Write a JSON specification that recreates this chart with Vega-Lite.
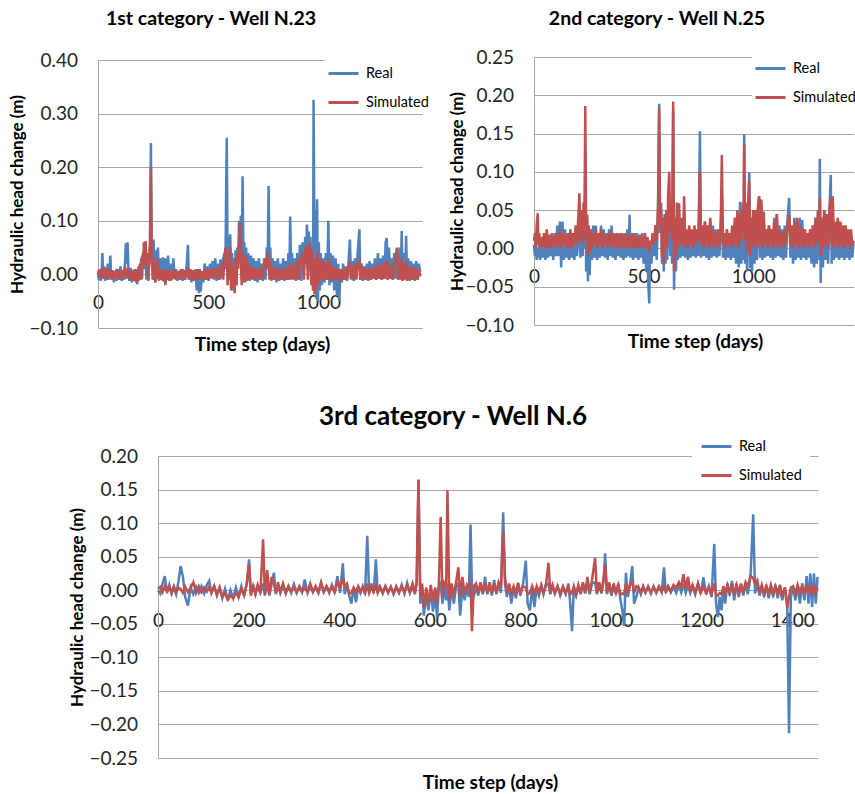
{
"$schema": "https://vega.github.io/schema/vega-lite/v6.json",
"padding": {"left": 0, "top": 8, "right": 0, "bottom": 0},
"background": "white",
"config": {
 "view": {"stroke": null},
 "font": "Lato",
 "axis": {"labelFont": "Lato", "labelFontSize": 19, "labelColor": "#262626", "titleFont": "Lato", "titleFontWeight": "bold", "titleColor": "#000000", "ticks": false, "labelFlush": false, "labelOverlap": false, "gridColor": "#a6a6a6", "gridWidth": 1, "domainColor": "#a6a6a6", "domainWidth": 1},
 "axisX": {"grid": false, "domain": false, "labelPadding": 19, "format": "d", "titleFontSize": 19},
 "axisY": {"grid": true, "domain": true, "labelPadding": 20.5, "format": ".2f", "titleFontSize": 17, "tickCount": 20},
 "legend": {"orient": "none", "direction": "vertical", "fillColor": "white", "padding": 2, "symbolType": "stroke", "symbolSize": 900, "symbolStrokeWidth": 3, "labelFont": "Lato", "labelFontSize": 14.5, "labelColor": "#000000", "labelOffset": 6, "rowPadding": 6},
 "title": {"font": "Lato", "fontWeight": "bold", "color": "#000000", "anchor": "middle", "frame": "group", "baseline": "alphabetic"}
},
"datasets": {
"w23": [
{"t":0,"r":0.000,"s":0.000},{"t":4,"r":-0.010,"s":0.008},{"t":8,"r":0.010,"s":-0.005},{"t":12,"r":-0.012,"s":0.010},{"t":16,"r":0.000,"s":-0.008},{"t":20,"r":0.040,"s":0.012},{"t":24,"r":-0.008,"s":-0.006},{"t":28,"r":0.015,"s":0.010},{"t":32,"r":-0.012,"s":-0.004},{"t":36,"r":0.005,"s":0.012},{"t":40,"r":-0.010,"s":-0.008},{"t":44,"r":0.020,"s":0.006},{"t":48,"r":-0.006,"s":-0.010},{"t":52,"r":0.010,"s":0.010},{"t":56,"r":0.035,"s":-0.004},{"t":60,"r":-0.010,"s":0.008},{"t":66,"r":0.008,"s":-0.010},{"t":72,"r":-0.015,"s":0.006},{"t":78,"r":0.005,"s":-0.006},{"t":84,"r":-0.012,"s":0.010},{"t":90,"r":0.010,"s":-0.008},{"t":96,"r":-0.010,"s":0.005},{"t":102,"r":0.015,"s":-0.010},{"t":108,"r":-0.012,"s":0.008},{"t":114,"r":0.005,"s":-0.005},{"t":120,"r":-0.010,"s":0.010},{"t":126,"r":0.058,"s":0.004},{"t":130,"r":0.020,"s":-0.008},{"t":134,"r":0.060,"s":0.012},{"t":138,"r":0.010,"s":-0.006},{"t":142,"r":-0.012,"s":0.008},{"t":148,"r":0.012,"s":-0.010},{"t":154,"r":-0.015,"s":0.006},{"t":160,"r":0.008,"s":-0.012},{"t":166,"r":-0.012,"s":0.010},{"t":172,"r":0.010,"s":-0.015},{"t":178,"r":-0.018,"s":0.008},{"t":184,"r":0.015,"s":-0.012},{"t":190,"r":-0.010,"s":0.020},{"t":196,"r":0.030,"s":-0.010},{"t":200,"r":-0.008,"s":0.035},{"t":204,"r":0.040,"s":0.010},{"t":208,"r":0.010,"s":0.060},{"t":212,"r":0.055,"s":0.020},{"t":216,"r":0.020,"s":0.062},{"t":220,"r":-0.010,"s":0.015},{"t":224,"r":0.030,"s":0.040},{"t":228,"r":-0.012,"s":-0.010},{"t":232,"r":0.020,"s":0.030},{"t":236,"r":0.050,"s":0.060},{"t":240,"r":0.245,"s":0.200},{"t":244,"r":0.030,"s":0.020},{"t":248,"r":-0.010,"s":0.030},{"t":252,"r":0.065,"s":-0.010},{"t":256,"r":0.010,"s":0.020},{"t":260,"r":-0.015,"s":-0.015},{"t":264,"r":0.045,"s":0.010},{"t":268,"r":0.000,"s":0.030},{"t":272,"r":0.050,"s":-0.008},{"t":276,"r":-0.012,"s":0.012},{"t":282,"r":0.030,"s":-0.010},{"t":288,"r":-0.010,"s":0.008},{"t":294,"r":0.032,"s":-0.012},{"t":300,"r":-0.014,"s":0.010},{"t":306,"r":0.030,"s":-0.020},{"t":312,"r":-0.010,"s":0.006},{"t":318,"r":0.035,"s":-0.010},{"t":324,"r":-0.012,"s":0.008},{"t":330,"r":0.020,"s":-0.012},{"t":336,"r":-0.010,"s":0.006},{"t":342,"r":0.030,"s":-0.008},{"t":348,"r":-0.008,"s":0.010},{"t":354,"r":0.010,"s":-0.010},{"t":360,"r":-0.012,"s":0.006},{"t":366,"r":0.005,"s":-0.010},{"t":372,"r":-0.010,"s":0.008},{"t":378,"r":0.010,"s":-0.006},{"t":384,"r":-0.012,"s":0.010},{"t":390,"r":0.008,"s":-0.010},{"t":396,"r":-0.010,"s":0.008},{"t":402,"r":0.015,"s":-0.005},{"t":408,"r":0.055,"s":0.012},{"t":412,"r":-0.010,"s":-0.008},{"t":418,"r":0.010,"s":0.010},{"t":424,"r":-0.015,"s":-0.010},{"t":430,"r":0.008,"s":0.008},{"t":436,"r":-0.012,"s":-0.010},{"t":442,"r":0.010,"s":0.006},{"t":448,"r":-0.030,"s":-0.008},{"t":452,"r":0.005,"s":0.010},{"t":458,"r":-0.035,"s":-0.010},{"t":462,"r":0.010,"s":0.008},{"t":466,"r":-0.032,"s":-0.008},{"t":472,"r":0.005,"s":0.006},{"t":478,"r":-0.015,"s":-0.010},{"t":484,"r":0.020,"s":0.010},{"t":490,"r":-0.010,"s":-0.008},{"t":496,"r":0.015,"s":0.008},{"t":502,"r":-0.012,"s":-0.010},{"t":508,"r":0.020,"s":0.010},{"t":514,"r":-0.008,"s":-0.006},{"t":520,"r":0.025,"s":0.010},{"t":526,"r":-0.010,"s":-0.008},{"t":532,"r":0.030,"s":0.012},{"t":538,"r":-0.012,"s":-0.006},{"t":544,"r":0.020,"s":0.010},{"t":550,"r":-0.010,"s":-0.010},{"t":556,"r":0.028,"s":0.012},{"t":562,"r":-0.008,"s":0.020},{"t":568,"r":0.030,"s":-0.010},{"t":574,"r":0.040,"s":0.030},{"t":578,"r":0.010,"s":0.050},{"t":584,"r":0.255,"s":0.040},{"t":588,"r":0.020,"s":-0.020},{"t":592,"r":0.070,"s":0.030},{"t":596,"r":0.015,"s":-0.010},{"t":600,"r":0.075,"s":0.050},{"t":604,"r":-0.020,"s":-0.030},{"t":608,"r":0.040,"s":0.020},{"t":612,"r":-0.030,"s":-0.025},{"t":616,"r":0.030,"s":0.010},{"t":620,"r":-0.032,"s":-0.035},{"t":624,"r":0.045,"s":0.030},{"t":628,"r":-0.020,"s":-0.020},{"t":632,"r":0.050,"s":0.040},{"t":636,"r":0.020,"s":0.010},{"t":640,"r":0.100,"s":0.060},{"t":644,"r":0.030,"s":0.096},{"t":648,"r":0.110,"s":0.030},{"t":652,"r":-0.010,"s":-0.020},{"t":656,"r":0.183,"s":0.040},{"t":660,"r":0.020,"s":-0.015},{"t":664,"r":0.060,"s":0.030},{"t":668,"r":-0.015,"s":-0.010},{"t":672,"r":0.050,"s":0.035},{"t":676,"r":-0.010,"s":-0.012},{"t":682,"r":0.040,"s":0.020},{"t":688,"r":-0.012,"s":-0.010},{"t":694,"r":0.035,"s":0.015},{"t":700,"r":-0.010,"s":-0.008},{"t":706,"r":0.030,"s":0.012},{"t":712,"r":-0.012,"s":-0.010},{"t":718,"r":0.025,"s":0.010},{"t":724,"r":-0.015,"s":-0.008},{"t":730,"r":0.030,"s":0.012},{"t":736,"r":-0.010,"s":-0.010},{"t":742,"r":0.020,"s":0.010},{"t":748,"r":-0.012,"s":-0.008},{"t":754,"r":0.030,"s":0.020},{"t":760,"r":-0.010,"s":0.030},{"t":766,"r":0.050,"s":0.010},{"t":770,"r":0.020,"s":0.040},{"t":774,"r":0.165,"s":0.030},{"t":778,"r":0.010,"s":-0.010},{"t":782,"r":0.050,"s":0.025},{"t":786,"r":-0.012,"s":-0.008},{"t":792,"r":0.030,"s":0.015},{"t":798,"r":-0.010,"s":-0.010},{"t":804,"r":0.025,"s":0.010},{"t":810,"r":-0.015,"s":-0.008},{"t":816,"r":0.030,"s":0.012},{"t":822,"r":-0.012,"s":-0.010},{"t":828,"r":0.020,"s":0.008},{"t":834,"r":-0.010,"s":-0.010},{"t":840,"r":0.030,"s":0.012},{"t":846,"r":-0.012,"s":-0.008},{"t":852,"r":0.025,"s":0.010},{"t":858,"r":-0.010,"s":-0.010},{"t":864,"r":0.040,"s":0.015},{"t":868,"r":-0.010,"s":-0.010},{"t":872,"r":0.108,"s":0.020},{"t":876,"r":0.010,"s":-0.010},{"t":880,"r":0.040,"s":0.015},{"t":886,"r":-0.010,"s":-0.008},{"t":892,"r":0.030,"s":0.020},{"t":898,"r":-0.012,"s":-0.010},{"t":904,"r":0.040,"s":0.025},{"t":910,"r":-0.010,"s":-0.010},{"t":916,"r":0.055,"s":0.030},{"t":922,"r":-0.012,"s":0.020},{"t":928,"r":0.060,"s":0.040},{"t":934,"r":0.010,"s":-0.010},{"t":940,"r":0.070,"s":0.050},{"t":944,"r":0.020,"s":0.030},{"t":948,"r":0.093,"s":0.052},{"t":952,"r":0.010,"s":-0.010},{"t":956,"r":0.080,"s":0.040},{"t":960,"r":0.020,"s":0.060},{"t":964,"r":0.070,"s":0.020},{"t":968,"r":-0.010,"s":-0.020},{"t":972,"r":0.050,"s":0.045},{"t":976,"r":-0.030,"s":-0.030},{"t":978,"r":0.326,"s":0.030},{"t":982,"r":0.050,"s":-0.037},{"t":986,"r":0.120,"s":0.030},{"t":990,"r":-0.045,"s":-0.030},{"t":994,"r":0.140,"s":0.040},{"t":998,"r":-0.050,"s":-0.020},{"t":1002,"r":0.060,"s":0.030},{"t":1006,"r":-0.030,"s":-0.015},{"t":1010,"r":0.040,"s":0.030},{"t":1016,"r":-0.020,"s":-0.010},{"t":1022,"r":0.030,"s":0.025},{"t":1028,"r":-0.015,"s":-0.010},{"t":1034,"r":0.040,"s":0.020},{"t":1040,"r":-0.010,"s":-0.010},{"t":1045,"r":0.100,"s":0.030},{"t":1050,"r":-0.020,"s":-0.010},{"t":1055,"r":0.040,"s":0.020},{"t":1060,"r":-0.015,"s":-0.012},{"t":1066,"r":0.035,"s":0.015},{"t":1072,"r":-0.030,"s":-0.010},{"t":1078,"r":0.030,"s":0.012},{"t":1084,"r":-0.040,"s":-0.008},{"t":1090,"r":0.020,"s":0.010},{"t":1095,"r":-0.050,"s":-0.015},{"t":1100,"r":0.010,"s":0.008},{"t":1106,"r":-0.015,"s":-0.010},{"t":1112,"r":0.020,"s":0.010},{"t":1118,"r":-0.010,"s":-0.008},{"t":1124,"r":0.015,"s":0.012},{"t":1130,"r":-0.012,"s":-0.010},{"t":1136,"r":0.020,"s":0.015},{"t":1143,"r":0.065,"s":0.020},{"t":1148,"r":-0.010,"s":-0.008},{"t":1154,"r":0.025,"s":0.015},{"t":1160,"r":-0.012,"s":-0.010},{"t":1166,"r":0.030,"s":0.020},{"t":1172,"r":-0.010,"s":-0.008},{"t":1178,"r":0.040,"s":0.020},{"t":1186,"r":0.084,"s":0.025},{"t":1190,"r":-0.010,"s":-0.010},{"t":1196,"r":0.020,"s":0.015},{"t":1202,"r":-0.012,"s":-0.008},{"t":1208,"r":0.015,"s":0.012},{"t":1214,"r":-0.010,"s":-0.010},{"t":1220,"r":0.020,"s":0.010},{"t":1226,"r":-0.012,"s":-0.008},{"t":1232,"r":0.025,"s":0.012},{"t":1238,"r":-0.010,"s":-0.010},{"t":1244,"r":0.020,"s":0.010},{"t":1250,"r":-0.008,"s":-0.008},{"t":1256,"r":0.030,"s":0.015},{"t":1262,"r":-0.010,"s":-0.010},{"t":1270,"r":0.040,"s":0.020},{"t":1276,"r":-0.008,"s":-0.008},{"t":1282,"r":0.030,"s":0.015},{"t":1288,"r":-0.010,"s":-0.010},{"t":1294,"r":0.035,"s":0.020},{"t":1300,"r":-0.008,"s":-0.008},{"t":1305,"r":0.060,"s":0.020},{"t":1310,"r":0.068,"s":0.025},{"t":1314,"r":-0.010,"s":-0.010},{"t":1320,"r":0.050,"s":0.020},{"t":1326,"r":-0.008,"s":-0.008},{"t":1332,"r":0.030,"s":0.015},{"t":1338,"r":-0.010,"s":-0.010},{"t":1344,"r":0.040,"s":0.020},{"t":1350,"r":-0.008,"s":0.030},{"t":1356,"r":0.030,"s":0.050},{"t":1362,"r":-0.010,"s":-0.010},{"t":1368,"r":0.050,"s":0.020},{"t":1374,"r":0.010,"s":-0.010},{"t":1378,"r":0.081,"s":0.030},{"t":1382,"r":-0.010,"s":-0.012},{"t":1388,"r":0.040,"s":0.020},{"t":1394,"r":-0.008,"s":-0.010},{"t":1398,"r":0.072,"s":0.025},{"t":1402,"r":-0.010,"s":-0.012},{"t":1408,"r":0.030,"s":0.015},{"t":1414,"r":-0.012,"s":-0.010},{"t":1420,"r":0.025,"s":0.012},{"t":1426,"r":-0.010,"s":-0.010},{"t":1432,"r":0.020,"s":0.015},{"t":1438,"r":-0.012,"s":-0.008},{"t":1444,"r":0.025,"s":0.012},{"t":1450,"r":-0.010,"s":-0.010},{"t":1456,"r":0.020,"s":0.008},{"t":1462,"r":0.005,"s":-0.004}
],
"w25": [
{"t":0,"r":0.005,"s":0.010},{"t":4,"r":-0.010,"s":0.020},{"t":8,"r":0.010,"s":0.000},{"t":12,"r":-0.015,"s":0.030},{"t":17,"r":0.000,"s":0.046},{"t":20,"r":-0.012,"s":0.005},{"t":24,"r":0.010,"s":0.020},{"t":28,"r":-0.015,"s":0.000},{"t":34,"r":0.005,"s":0.015},{"t":40,"r":-0.012,"s":0.002},{"t":46,"r":0.010,"s":0.020},{"t":52,"r":-0.015,"s":0.000},{"t":58,"r":0.005,"s":0.025},{"t":64,"r":-0.012,"s":0.002},{"t":70,"r":0.010,"s":0.018},{"t":76,"r":-0.010,"s":0.000},{"t":82,"r":0.008,"s":0.020},{"t":88,"r":-0.015,"s":0.002},{"t":94,"r":0.020,"s":0.015},{"t":100,"r":-0.010,"s":0.000},{"t":106,"r":0.030,"s":0.020},{"t":112,"r":-0.010,"s":0.005},{"t":118,"r":0.035,"s":0.025},{"t":124,"r":-0.025,"s":0.000},{"t":130,"r":0.035,"s":0.020},{"t":136,"r":-0.015,"s":0.005},{"t":142,"r":0.025,"s":0.018},{"t":148,"r":-0.012,"s":0.000},{"t":154,"r":0.010,"s":0.020},{"t":160,"r":-0.015,"s":0.002},{"t":166,"r":0.010,"s":0.025},{"t":172,"r":-0.012,"s":0.000},{"t":178,"r":0.008,"s":0.020},{"t":184,"r":-0.015,"s":0.005},{"t":190,"r":0.010,"s":0.030},{"t":196,"r":-0.010,"s":0.005},{"t":202,"r":0.020,"s":0.040},{"t":207,"r":0.030,"s":0.072},{"t":212,"r":-0.012,"s":0.010},{"t":218,"r":0.025,"s":0.050},{"t":222,"r":-0.010,"s":0.005},{"t":226,"r":0.050,"s":0.060},{"t":230,"r":0.000,"s":0.010},{"t":234,"r":0.125,"s":0.186},{"t":238,"r":-0.030,"s":0.020},{"t":242,"r":0.044,"s":0.044},{"t":246,"r":-0.043,"s":-0.010},{"t":250,"r":0.020,"s":0.030},{"t":254,"r":-0.035,"s":-0.005},{"t":258,"r":0.025,"s":0.025},{"t":264,"r":-0.015,"s":0.000},{"t":270,"r":0.030,"s":0.020},{"t":276,"r":-0.012,"s":0.005},{"t":282,"r":0.030,"s":0.025},{"t":288,"r":-0.015,"s":0.000},{"t":294,"r":0.020,"s":0.020},{"t":300,"r":-0.012,"s":0.005},{"t":306,"r":0.030,"s":0.025},{"t":312,"r":-0.010,"s":0.000},{"t":318,"r":0.025,"s":0.020},{"t":324,"r":-0.012,"s":0.005},{"t":330,"r":0.020,"s":0.015},{"t":336,"r":-0.015,"s":0.000},{"t":342,"r":0.025,"s":0.020},{"t":348,"r":-0.010,"s":0.005},{"t":354,"r":0.030,"s":0.022},{"t":360,"r":-0.012,"s":0.000},{"t":366,"r":0.020,"s":0.018},{"t":372,"r":-0.015,"s":0.002},{"t":378,"r":0.015,"s":0.020},{"t":384,"r":-0.010,"s":0.000},{"t":390,"r":0.020,"s":0.018},{"t":396,"r":-0.012,"s":0.002},{"t":402,"r":0.015,"s":0.020},{"t":408,"r":-0.015,"s":0.000},{"t":414,"r":0.020,"s":0.018},{"t":420,"r":-0.012,"s":0.002},{"t":426,"r":0.025,"s":0.020},{"t":432,"r":-0.010,"s":0.000},{"t":436,"r":0.044,"s":0.015},{"t":440,"r":-0.012,"s":0.002},{"t":446,"r":0.020,"s":0.018},{"t":452,"r":-0.015,"s":0.000},{"t":458,"r":0.015,"s":0.020},{"t":464,"r":-0.012,"s":0.002},{"t":470,"r":0.020,"s":0.015},{"t":476,"r":-0.015,"s":0.000},{"t":482,"r":0.015,"s":0.018},{"t":488,"r":-0.012,"s":0.002},{"t":494,"r":0.020,"s":0.015},{"t":500,"r":-0.020,"s":0.000},{"t":506,"r":0.015,"s":0.020},{"t":512,"r":-0.030,"s":0.002},{"t":518,"r":0.010,"s":0.015},{"t":522,"r":-0.050,"s":-0.005},{"t":526,"r":-0.072,"s":0.000},{"t":530,"r":0.010,"s":0.010},{"t":536,"r":-0.020,"s":0.005},{"t":542,"r":0.020,"s":0.020},{"t":548,"r":-0.010,"s":0.005},{"t":554,"r":0.030,"s":0.030},{"t":560,"r":-0.015,"s":0.010},{"t":566,"r":0.060,"s":0.050},{"t":571,"r":0.189,"s":0.183},{"t":575,"r":0.020,"s":0.030},{"t":580,"r":0.060,"s":0.050},{"t":584,"r":-0.020,"s":-0.010},{"t":588,"r":0.040,"s":0.040},{"t":592,"r":-0.030,"s":-0.020},{"t":596,"r":0.045,"s":0.040},{"t":600,"r":-0.020,"s":0.010},{"t":604,"r":0.040,"s":0.050},{"t":608,"r":-0.015,"s":0.000},{"t":612,"r":0.050,"s":0.070},{"t":617,"r":0.060,"s":0.100},{"t":622,"r":-0.010,"s":0.020},{"t":626,"r":0.040,"s":0.050},{"t":630,"r":-0.020,"s":0.010},{"t":635,"r":0.180,"s":0.192},{"t":639,"r":-0.054,"s":-0.030},{"t":643,"r":0.030,"s":0.040},{"t":648,"r":-0.030,"s":-0.010},{"t":652,"r":0.040,"s":0.060},{"t":656,"r":-0.015,"s":0.000},{"t":662,"r":0.040,"s":0.059},{"t":668,"r":-0.012,"s":0.005},{"t":674,"r":0.030,"s":0.040},{"t":680,"r":-0.010,"s":0.005},{"t":685,"r":0.050,"s":0.068},{"t":690,"r":-0.012,"s":0.002},{"t":696,"r":0.020,"s":0.025},{"t":702,"r":-0.015,"s":0.000},{"t":708,"r":0.025,"s":0.030},{"t":714,"r":-0.012,"s":0.005},{"t":720,"r":0.020,"s":0.025},{"t":726,"r":-0.010,"s":0.000},{"t":732,"r":0.025,"s":0.030},{"t":738,"r":-0.012,"s":0.005},{"t":744,"r":0.020,"s":0.025},{"t":750,"r":-0.010,"s":0.010},{"t":757,"r":0.153,"s":0.100},{"t":762,"r":-0.012,"s":0.005},{"t":768,"r":0.030,"s":0.030},{"t":774,"r":-0.010,"s":0.000},{"t":780,"r":0.035,"s":0.035},{"t":786,"r":-0.012,"s":0.005},{"t":792,"r":0.030,"s":0.030},{"t":798,"r":-0.015,"s":0.000},{"t":804,"r":0.035,"s":0.040},{"t":810,"r":-0.012,"s":0.005},{"t":816,"r":0.030,"s":0.025},{"t":822,"r":-0.010,"s":0.000},{"t":828,"r":0.025,"s":0.020},{"t":834,"r":-0.012,"s":0.005},{"t":840,"r":0.020,"s":0.025},{"t":846,"r":-0.010,"s":0.000},{"t":852,"r":0.030,"s":0.030},{"t":857,"r":0.070,"s":0.122},{"t":862,"r":-0.012,"s":0.005},{"t":868,"r":0.020,"s":0.020},{"t":874,"r":-0.015,"s":0.000},{"t":880,"r":0.025,"s":0.025},{"t":886,"r":-0.012,"s":0.005},{"t":892,"r":0.020,"s":0.020},{"t":898,"r":-0.015,"s":0.000},{"t":904,"r":0.025,"s":0.030},{"t":910,"r":-0.012,"s":0.005},{"t":916,"r":0.030,"s":0.040},{"t":922,"r":-0.020,"s":0.005},{"t":928,"r":0.040,"s":0.050},{"t":934,"r":-0.025,"s":0.000},{"t":940,"r":0.061,"s":0.045},{"t":946,"r":-0.020,"s":0.010},{"t":952,"r":0.050,"s":0.060},{"t":956,"r":-0.015,"s":0.020},{"t":959,"r":0.149,"s":0.136},{"t":963,"r":-0.020,"s":0.010},{"t":967,"r":0.050,"s":0.060},{"t":972,"r":-0.030,"s":-0.005},{"t":977,"r":0.050,"s":0.050},{"t":982,"r":0.099,"s":0.088},{"t":986,"r":-0.026,"s":-0.010},{"t":990,"r":0.040,"s":0.040},{"t":995,"r":-0.030,"s":0.000},{"t":1000,"r":0.050,"s":0.050},{"t":1006,"r":-0.020,"s":0.005},{"t":1012,"r":0.040,"s":0.050},{"t":1018,"r":-0.015,"s":0.000},{"t":1022,"r":0.050,"s":0.055},{"t":1027,"r":0.068,"s":0.068},{"t":1032,"r":-0.012,"s":0.005},{"t":1037,"r":0.060,"s":0.064},{"t":1042,"r":-0.015,"s":0.000},{"t":1048,"r":0.040,"s":0.048},{"t":1054,"r":-0.012,"s":0.005},{"t":1060,"r":0.025,"s":0.025},{"t":1066,"r":-0.010,"s":0.000},{"t":1072,"r":0.030,"s":0.030},{"t":1078,"r":-0.012,"s":0.005},{"t":1084,"r":0.025,"s":0.025},{"t":1090,"r":-0.015,"s":0.000},{"t":1096,"r":0.040,"s":0.035},{"t":1102,"r":-0.012,"s":0.005},{"t":1108,"r":0.045,"s":0.045},{"t":1114,"r":-0.010,"s":0.000},{"t":1120,"r":0.030,"s":0.025},{"t":1126,"r":-0.012,"s":0.005},{"t":1132,"r":0.025,"s":0.020},{"t":1138,"r":-0.015,"s":0.000},{"t":1144,"r":0.030,"s":0.025},{"t":1150,"r":-0.012,"s":0.005},{"t":1156,"r":0.035,"s":0.030},{"t":1164,"r":0.066,"s":0.044},{"t":1170,"r":-0.012,"s":0.005},{"t":1176,"r":0.030,"s":0.030},{"t":1182,"r":-0.020,"s":0.000},{"t":1188,"r":0.040,"s":0.035},{"t":1194,"r":-0.015,"s":0.005},{"t":1200,"r":0.035,"s":0.040},{"t":1206,"r":-0.012,"s":0.000},{"t":1212,"r":0.040,"s":0.030},{"t":1218,"r":-0.015,"s":0.005},{"t":1224,"r":0.037,"s":0.025},{"t":1230,"r":-0.012,"s":0.000},{"t":1236,"r":0.025,"s":0.025},{"t":1242,"r":-0.015,"s":0.005},{"t":1248,"r":0.020,"s":0.020},{"t":1254,"r":-0.012,"s":0.000},{"t":1260,"r":0.025,"s":0.025},{"t":1266,"r":-0.020,"s":0.005},{"t":1272,"r":0.030,"s":0.030},{"t":1278,"r":-0.025,"s":0.000},{"t":1284,"r":0.040,"s":0.040},{"t":1290,"r":-0.020,"s":0.005},{"t":1296,"r":0.050,"s":0.050},{"t":1300,"r":-0.015,"s":0.010},{"t":1304,"r":0.117,"s":0.066},{"t":1308,"r":-0.045,"s":-0.010},{"t":1312,"r":0.040,"s":0.040},{"t":1318,"r":-0.025,"s":0.000},{"t":1324,"r":0.050,"s":0.050},{"t":1330,"r":-0.015,"s":0.005},{"t":1336,"r":0.040,"s":0.045},{"t":1342,"r":-0.020,"s":0.000},{"t":1348,"r":0.050,"s":0.050},{"t":1354,"r":0.096,"s":0.066},{"t":1358,"r":-0.020,"s":0.005},{"t":1363,"r":0.060,"s":0.068},{"t":1368,"r":-0.015,"s":0.000},{"t":1374,"r":0.030,"s":0.035},{"t":1380,"r":-0.012,"s":0.005},{"t":1386,"r":0.030,"s":0.040},{"t":1392,"r":-0.015,"s":0.000},{"t":1398,"r":0.025,"s":0.035},{"t":1404,"r":-0.012,"s":0.005},{"t":1410,"r":0.030,"s":0.030},{"t":1416,"r":-0.015,"s":0.000},{"t":1422,"r":0.025,"s":0.030},{"t":1428,"r":-0.012,"s":0.005},{"t":1434,"r":0.020,"s":0.025},{"t":1440,"r":-0.015,"s":0.000},{"t":1446,"r":0.020,"s":0.025},{"t":1452,"r":-0.012,"s":0.005},{"t":1458,"r":0.010,"s":0.010}
],
"w6": [
{"t":0,"r":0.000,"s":0.002},{"t":5,"r":-0.005,"s":0.005},{"t":10,"r":0.010,"s":-0.003},{"t":15,"r":0.021,"s":0.006},{"t":20,"r":-0.004,"s":-0.002},{"t":25,"r":0.008,"s":0.005},{"t":30,"r":-0.005,"s":-0.004},{"t":35,"r":0.004,"s":0.006},{"t":40,"r":-0.006,"s":-0.003},{"t":45,"r":0.012,"s":0.004},{"t":50,"r":0.036,"s":0.002},{"t":55,"r":0.020,"s":-0.004},{"t":60,"r":-0.010,"s":0.005},{"t":66,"r":-0.023,"s":-0.003},{"t":72,"r":0.004,"s":0.004},{"t":78,"r":-0.006,"s":0.012},{"t":84,"r":0.005,"s":-0.004},{"t":90,"r":-0.004,"s":0.006},{"t":96,"r":0.006,"s":-0.003},{"t":102,"r":-0.005,"s":0.004},{"t":108,"r":0.008,"s":-0.002},{"t":113,"r":0.014,"s":0.005},{"t":118,"r":-0.004,"s":-0.004},{"t":124,"r":0.006,"s":0.006},{"t":130,"r":-0.008,"s":-0.006},{"t":136,"r":0.004,"s":0.004},{"t":142,"r":-0.012,"s":-0.010},{"t":148,"r":0.002,"s":-0.004},{"t":154,"r":-0.015,"s":-0.014},{"t":160,"r":0.000,"s":-0.008},{"t":166,"r":-0.012,"s":-0.012},{"t":172,"r":0.004,"s":-0.004},{"t":178,"r":-0.010,"s":-0.010},{"t":184,"r":0.006,"s":0.002},{"t":190,"r":-0.008,"s":-0.008},{"t":196,"r":0.010,"s":0.010},{"t":201,"r":0.046,"s":0.039},{"t":205,"r":-0.006,"s":-0.008},{"t":210,"r":0.008,"s":0.006},{"t":215,"r":-0.005,"s":-0.006},{"t":220,"r":0.006,"s":0.008},{"t":226,"r":-0.004,"s":-0.004},{"t":232,"r":0.010,"s":0.076},{"t":236,"r":-0.006,"s":-0.008},{"t":241,"r":0.008,"s":0.030},{"t":246,"r":-0.008,"s":-0.006},{"t":251,"r":0.010,"s":0.020},{"t":256,"r":0.026,"s":0.010},{"t":260,"r":-0.006,"s":-0.004},{"t":265,"r":0.006,"s":0.012},{"t":270,"r":-0.004,"s":-0.003},{"t":276,"r":0.008,"s":0.010},{"t":282,"r":-0.005,"s":-0.004},{"t":288,"r":0.006,"s":0.006},{"t":294,"r":-0.004,"s":-0.002},{"t":300,"r":0.009,"s":0.004},{"t":306,"r":-0.004,"s":-0.003},{"t":312,"r":0.005,"s":0.006},{"t":318,"r":-0.003,"s":-0.002},{"t":324,"r":0.016,"s":0.004},{"t":330,"r":-0.004,"s":-0.003},{"t":336,"r":0.006,"s":0.010},{"t":342,"r":-0.003,"s":-0.002},{"t":348,"r":0.005,"s":0.006},{"t":354,"r":-0.004,"s":-0.003},{"t":360,"r":0.010,"s":0.012},{"t":366,"r":-0.003,"s":-0.002},{"t":372,"r":0.006,"s":0.006},{"t":378,"r":-0.004,"s":-0.002},{"t":384,"r":0.008,"s":0.006},{"t":390,"r":-0.004,"s":-0.003},{"t":396,"r":0.021,"s":0.012},{"t":402,"r":-0.004,"s":0.004},{"t":408,"r":0.040,"s":0.018},{"t":412,"r":-0.006,"s":0.006},{"t":417,"r":0.008,"s":0.010},{"t":422,"r":-0.008,"s":-0.005},{"t":427,"r":-0.020,"s":-0.004},{"t":432,"r":0.004,"s":0.004},{"t":437,"r":-0.018,"s":-0.003},{"t":442,"r":0.005,"s":0.006},{"t":447,"r":-0.004,"s":-0.002},{"t":452,"r":0.006,"s":0.004},{"t":457,"r":-0.006,"s":-0.004},{"t":462,"r":0.081,"s":0.010},{"t":466,"r":-0.004,"s":-0.004},{"t":471,"r":0.010,"s":0.006},{"t":476,"r":-0.005,"s":-0.002},{"t":481,"r":0.046,"s":0.008},{"t":485,"r":-0.004,"s":-0.004},{"t":490,"r":0.005,"s":0.005},{"t":496,"r":-0.005,"s":-0.003},{"t":502,"r":0.006,"s":0.006},{"t":508,"r":-0.004,"s":-0.003},{"t":514,"r":0.005,"s":0.005},{"t":520,"r":-0.006,"s":-0.004},{"t":526,"r":0.004,"s":0.006},{"t":532,"r":-0.004,"s":-0.003},{"t":538,"r":0.008,"s":0.006},{"t":544,"r":-0.005,"s":-0.003},{"t":550,"r":0.011,"s":0.008},{"t":556,"r":-0.004,"s":-0.003},{"t":562,"r":0.006,"s":0.010},{"t":567,"r":-0.006,"s":-0.004},{"t":571,"r":0.010,"s":0.012},{"t":575,"r":0.165,"s":0.164},{"t":579,"r":-0.020,"s":-0.010},{"t":583,"r":0.004,"s":0.010},{"t":587,"r":-0.038,"s":-0.026},{"t":592,"r":-0.006,"s":0.004},{"t":597,"r":-0.030,"s":-0.020},{"t":602,"r":0.002,"s":0.008},{"t":607,"r":-0.032,"s":-0.015},{"t":612,"r":-0.005,"s":0.004},{"t":616,"r":-0.040,"s":-0.020},{"t":620,"r":0.004,"s":0.010},{"t":624,"r":0.010,"s":0.109},{"t":628,"r":-0.020,"s":-0.010},{"t":632,"r":0.006,"s":0.010},{"t":636,"r":-0.015,"s":0.004},{"t":639,"r":0.010,"s":0.149},{"t":643,"r":-0.030,"s":-0.015},{"t":648,"r":0.004,"s":0.010},{"t":653,"r":-0.020,"s":-0.008},{"t":658,"r":0.006,"s":0.012},{"t":663,"r":0.010,"s":0.034},{"t":667,"r":-0.038,"s":-0.010},{"t":672,"r":0.004,"s":0.020},{"t":677,"r":-0.015,"s":-0.006},{"t":682,"r":0.006,"s":0.008},{"t":686,"r":-0.010,"s":0.004},{"t":690,"r":0.098,"s":0.014},{"t":693,"r":0.004,"s":-0.061},{"t":697,"r":-0.010,"s":0.006},{"t":702,"r":0.006,"s":0.010},{"t":707,"r":-0.008,"s":-0.004},{"t":712,"r":0.010,"s":0.012},{"t":717,"r":-0.006,"s":-0.004},{"t":722,"r":0.020,"s":0.010},{"t":727,"r":-0.006,"s":-0.004},{"t":732,"r":0.008,"s":0.012},{"t":737,"r":-0.008,"s":-0.004},{"t":742,"r":0.015,"s":0.010},{"t":747,"r":-0.006,"s":-0.004},{"t":752,"r":0.010,"s":0.012},{"t":757,"r":-0.004,"s":0.004},{"t":762,"r":0.116,"s":0.088},{"t":766,"r":0.010,"s":0.020},{"t":770,"r":-0.010,"s":-0.004},{"t":775,"r":0.006,"s":0.010},{"t":780,"r":-0.020,"s":-0.006},{"t":785,"r":0.004,"s":0.006},{"t":790,"r":-0.012,"s":-0.004},{"t":795,"r":0.008,"s":0.011},{"t":800,"r":-0.008,"s":-0.004},{"t":806,"r":0.010,"s":0.006},{"t":812,"r":0.044,"s":0.004},{"t":816,"r":-0.020,"s":-0.006},{"t":821,"r":-0.030,"s":-0.004},{"t":826,"r":0.004,"s":0.006},{"t":831,"r":-0.025,"s":-0.005},{"t":836,"r":0.004,"s":0.006},{"t":841,"r":-0.008,"s":-0.004},{"t":846,"r":0.006,"s":0.008},{"t":851,"r":-0.006,"s":-0.004},{"t":856,"r":0.008,"s":0.006},{"t":862,"r":0.010,"s":0.041},{"t":866,"r":-0.006,"s":-0.004},{"t":871,"r":0.006,"s":0.008},{"t":876,"r":-0.005,"s":-0.004},{"t":882,"r":0.006,"s":0.006},{"t":888,"r":-0.008,"s":-0.005},{"t":894,"r":0.004,"s":0.006},{"t":900,"r":-0.006,"s":-0.004},{"t":906,"r":0.010,"s":0.005},{"t":910,"r":-0.020,"s":-0.006},{"t":914,"r":-0.061,"s":-0.004},{"t":918,"r":0.004,"s":0.006},{"t":923,"r":-0.008,"s":-0.006},{"t":928,"r":0.006,"s":0.008},{"t":933,"r":-0.006,"s":-0.004},{"t":938,"r":0.010,"s":0.012},{"t":943,"r":-0.005,"s":-0.004},{"t":948,"r":0.012,"s":0.020},{"t":953,"r":-0.006,"s":-0.004},{"t":958,"r":0.010,"s":0.015},{"t":965,"r":0.012,"s":0.048},{"t":969,"r":-0.006,"s":-0.004},{"t":974,"r":0.010,"s":0.012},{"t":979,"r":-0.005,"s":-0.004},{"t":984,"r":0.015,"s":0.020},{"t":987,"r":0.055,"s":0.039},{"t":991,"r":-0.006,"s":-0.004},{"t":996,"r":0.008,"s":0.012},{"t":1001,"r":-0.008,"s":-0.006},{"t":1006,"r":0.006,"s":0.010},{"t":1011,"r":-0.006,"s":-0.004},{"t":1016,"r":0.010,"s":0.008},{"t":1021,"r":-0.015,"s":-0.006},{"t":1025,"r":-0.030,"s":-0.005},{"t":1029,"r":-0.053,"s":-0.006},{"t":1033,"r":0.026,"s":0.010},{"t":1037,"r":-0.010,"s":-0.004},{"t":1042,"r":0.008,"s":0.008},{"t":1047,"r":0.036,"s":0.012},{"t":1051,"r":-0.020,"s":-0.004},{"t":1056,"r":-0.010,"s":0.006},{"t":1061,"r":0.004,"s":0.004},{"t":1066,"r":-0.006,"s":-0.003},{"t":1071,"r":0.005,"s":0.006},{"t":1076,"r":-0.004,"s":-0.003},{"t":1082,"r":0.004,"s":0.006},{"t":1088,"r":-0.005,"s":-0.003},{"t":1094,"r":0.006,"s":0.004},{"t":1100,"r":-0.004,"s":-0.003},{"t":1106,"r":0.005,"s":0.006},{"t":1112,"r":-0.003,"s":-0.002},{"t":1117,"r":0.034,"s":0.006},{"t":1121,"r":-0.004,"s":-0.002},{"t":1126,"r":0.005,"s":0.006},{"t":1132,"r":-0.003,"s":-0.002},{"t":1138,"r":0.006,"s":0.008},{"t":1144,"r":-0.004,"s":0.004},{"t":1150,"r":0.008,"s":0.012},{"t":1155,"r":-0.003,"s":0.004},{"t":1160,"r":0.010,"s":0.024},{"t":1165,"r":-0.004,"s":0.002},{"t":1170,"r":0.008,"s":0.020},{"t":1175,"r":-0.004,"s":-0.002},{"t":1180,"r":0.006,"s":0.008},{"t":1186,"r":-0.006,"s":-0.004},{"t":1192,"r":0.010,"s":0.010},{"t":1198,"r":-0.005,"s":-0.004},{"t":1204,"r":0.019,"s":0.006},{"t":1210,"r":-0.006,"s":-0.004},{"t":1216,"r":0.006,"s":0.004},{"t":1222,"r":-0.010,"s":-0.006},{"t":1228,"r":0.069,"s":0.010},{"t":1232,"r":-0.020,"s":-0.006},{"t":1236,"r":-0.040,"s":-0.008},{"t":1240,"r":-0.010,"s":-0.004},{"t":1244,"r":-0.030,"s":-0.006},{"t":1248,"r":0.004,"s":0.006},{"t":1252,"r":-0.020,"s":-0.004},{"t":1257,"r":0.010,"s":0.008},{"t":1262,"r":-0.008,"s":-0.004},{"t":1267,"r":0.014,"s":0.010},{"t":1272,"r":-0.015,"s":-0.006},{"t":1277,"r":0.010,"s":0.008},{"t":1282,"r":-0.010,"s":-0.004},{"t":1287,"r":0.008,"s":0.010},{"t":1292,"r":-0.008,"s":-0.004},{"t":1297,"r":0.010,"s":0.012},{"t":1302,"r":-0.006,"s":0.006},{"t":1308,"r":0.020,"s":0.021},{"t":1314,"r":0.113,"s":0.018},{"t":1318,"r":-0.005,"s":0.010},{"t":1323,"r":0.010,"s":0.015},{"t":1328,"r":-0.008,"s":-0.004},{"t":1333,"r":0.006,"s":0.008},{"t":1338,"r":-0.010,"s":-0.006},{"t":1343,"r":0.008,"s":0.006},{"t":1348,"r":-0.012,"s":-0.004},{"t":1353,"r":0.006,"s":0.008},{"t":1358,"r":-0.010,"s":-0.006},{"t":1363,"r":0.008,"s":0.006},{"t":1368,"r":-0.012,"s":-0.004},{"t":1373,"r":0.006,"s":0.008},{"t":1378,"r":-0.015,"s":-0.010},{"t":1384,"r":0.004,"s":0.004},{"t":1389,"r":-0.020,"s":-0.026},{"t":1393,"r":-0.213,"s":-0.010},{"t":1397,"r":-0.010,"s":0.004},{"t":1402,"r":0.004,"s":0.006},{"t":1407,"r":-0.015,"s":-0.006},{"t":1412,"r":0.008,"s":0.008},{"t":1417,"r":-0.020,"s":-0.004},{"t":1422,"r":0.010,"s":0.006},{"t":1427,"r":-0.015,"s":-0.004},{"t":1432,"r":0.021,"s":0.008},{"t":1436,"r":-0.020,"s":-0.004},{"t":1440,"r":0.025,"s":0.006},{"t":1444,"r":-0.025,"s":-0.006},{"t":1448,"r":0.025,"s":0.008},{"t":1452,"r":-0.020,"s":-0.004},{"t":1456,"r":0.020,"s":0.004}
]
},
"resolve": {"scale": {"color": "independent"}, "legend": {"color": "independent"}},
"align": "none",
"spacing": 49,
"vconcat": [
 {
  "resolve": {"scale": {"color": "independent"}, "legend": {"color": "independent"}},
  "align": "none",
  "spacing": 0,
  "hconcat": [
   {
    "width": 324, "height": 271,
    "title": {"text": "1st category - Well N.23", "fontSize": 19.5, "dx": -49, "offset": 22},
    "data": {"name": "w23"},
    "encoding": {"x": {"field": "t", "type": "quantitative", "scale": {"domain": [0, 1470], "nice": false, "zero": false}, "axis": {"title": "Time step (days)", "values": [0, 500, 1000], "offset": -53.6, "titleX": 164, "titleY": 61.3}}},
    "layer": [
     {"mark": {"type": "line", "strokeWidth": 2.5}, "encoding": {"y": {"field": "r", "type": "quantitative", "scale": {"domain": [-0.1, 0.4], "nice": false, "range": [271, 3]}, "axis": {"title": "Hydraulic head change (m)", "values": [-0.1, 0, 0.1, 0.2, 0.3, 0.4], "minExtent": 98, "titleX": -72, "titleY": 137}}, "color": {"datum": "Real", "type": "nominal", "scale": {"domain": ["Real", "Simulated"], "range": ["#4F81BD", "#C0504D"]}, "legend": {"title": null, "legendX": 227, "legendY": -2}}}},
     {"mark": {"type": "line", "strokeWidth": 2.5}, "encoding": {"y": {"field": "s", "type": "quantitative"}, "color": {"datum": "Simulated", "type": "nominal"}}}
    ]
   },
   {
    "width": 320, "height": 268,
    "title": {"text": "2nd category - Well N.25", "fontSize": 19.5, "dx": -37, "offset": 19},
    "data": {"name": "w25"},
    "encoding": {"x": {"field": "t", "type": "quantitative", "scale": {"domain": [0, 1460], "nice": false, "zero": false}, "axis": {"title": "Time step (days)", "values": [0, 500, 1000], "offset": -76.4, "titleX": 161, "titleY": 84}}},
    "layer": [
     {"mark": {"type": "line", "strokeWidth": 2.5}, "encoding": {"y": {"field": "r", "type": "quantitative", "scale": {"domain": [-0.1, 0.25], "nice": false}, "axis": {"title": "Hydraulic head change (m)", "values": [-0.1, -0.05, 0, 0.05, 0.1, 0.15, 0.2, 0.25], "minExtent": 103, "titleX": -68, "titleY": 134}}, "color": {"datum": "Real", "type": "nominal", "scale": {"domain": ["Real", "Simulated"], "range": ["#4F81BD", "#C0504D"]}, "legend": {"title": null, "legendX": 218, "legendY": -7}}}},
     {"mark": {"type": "line", "strokeWidth": 2.5}, "encoding": {"y": {"field": "s", "type": "quantitative"}, "color": {"datum": "Simulated", "type": "nominal"}}}
    ]
   }
  ]
 },
 {
  "width": 720, "height": 302,
  "title": {"text": "3rd category - Well N.6", "fontSize": 26, "dx": -5, "offset": -8},
  "data": {"name": "w6"},
  "encoding": {"x": {"field": "t", "type": "quantitative", "scale": {"domain": [0, 1457], "nice": false, "zero": false, "range": [60, 720]}, "axis": {"title": "Time step (days)", "values": [0, 200, 400, 600, 800, 1000, 1200, 1400], "offset": -167.8, "labelPadding": 21, "titleX": 392, "titleY": 183}}},
  "layer": [
   {"mark": {"type": "line", "strokeWidth": 2.5}, "encoding": {"y": {"field": "r", "type": "quantitative", "scale": {"domain": [-0.25, 0.2], "nice": false}, "axis": {"title": "Hydraulic head change (m)", "values": [-0.25, -0.2, -0.15, -0.1, -0.05, 0, 0.05, 0.1, 0.15, 0.2], "offset": -60, "titleX": -72, "titleY": 151}}, "color": {"datum": "Real", "type": "nominal", "scale": {"domain": ["Real", "Simulated"], "range": ["#4F81BD", "#C0504D"]}, "legend": {"title": null, "legendX": 594, "legendY": -34, "padding": 8}}}},
   {"mark": {"type": "line", "strokeWidth": 2.5}, "encoding": {"y": {"field": "s", "type": "quantitative"}, "color": {"datum": "Simulated", "type": "nominal"}}}
  ]
 }
]
}
